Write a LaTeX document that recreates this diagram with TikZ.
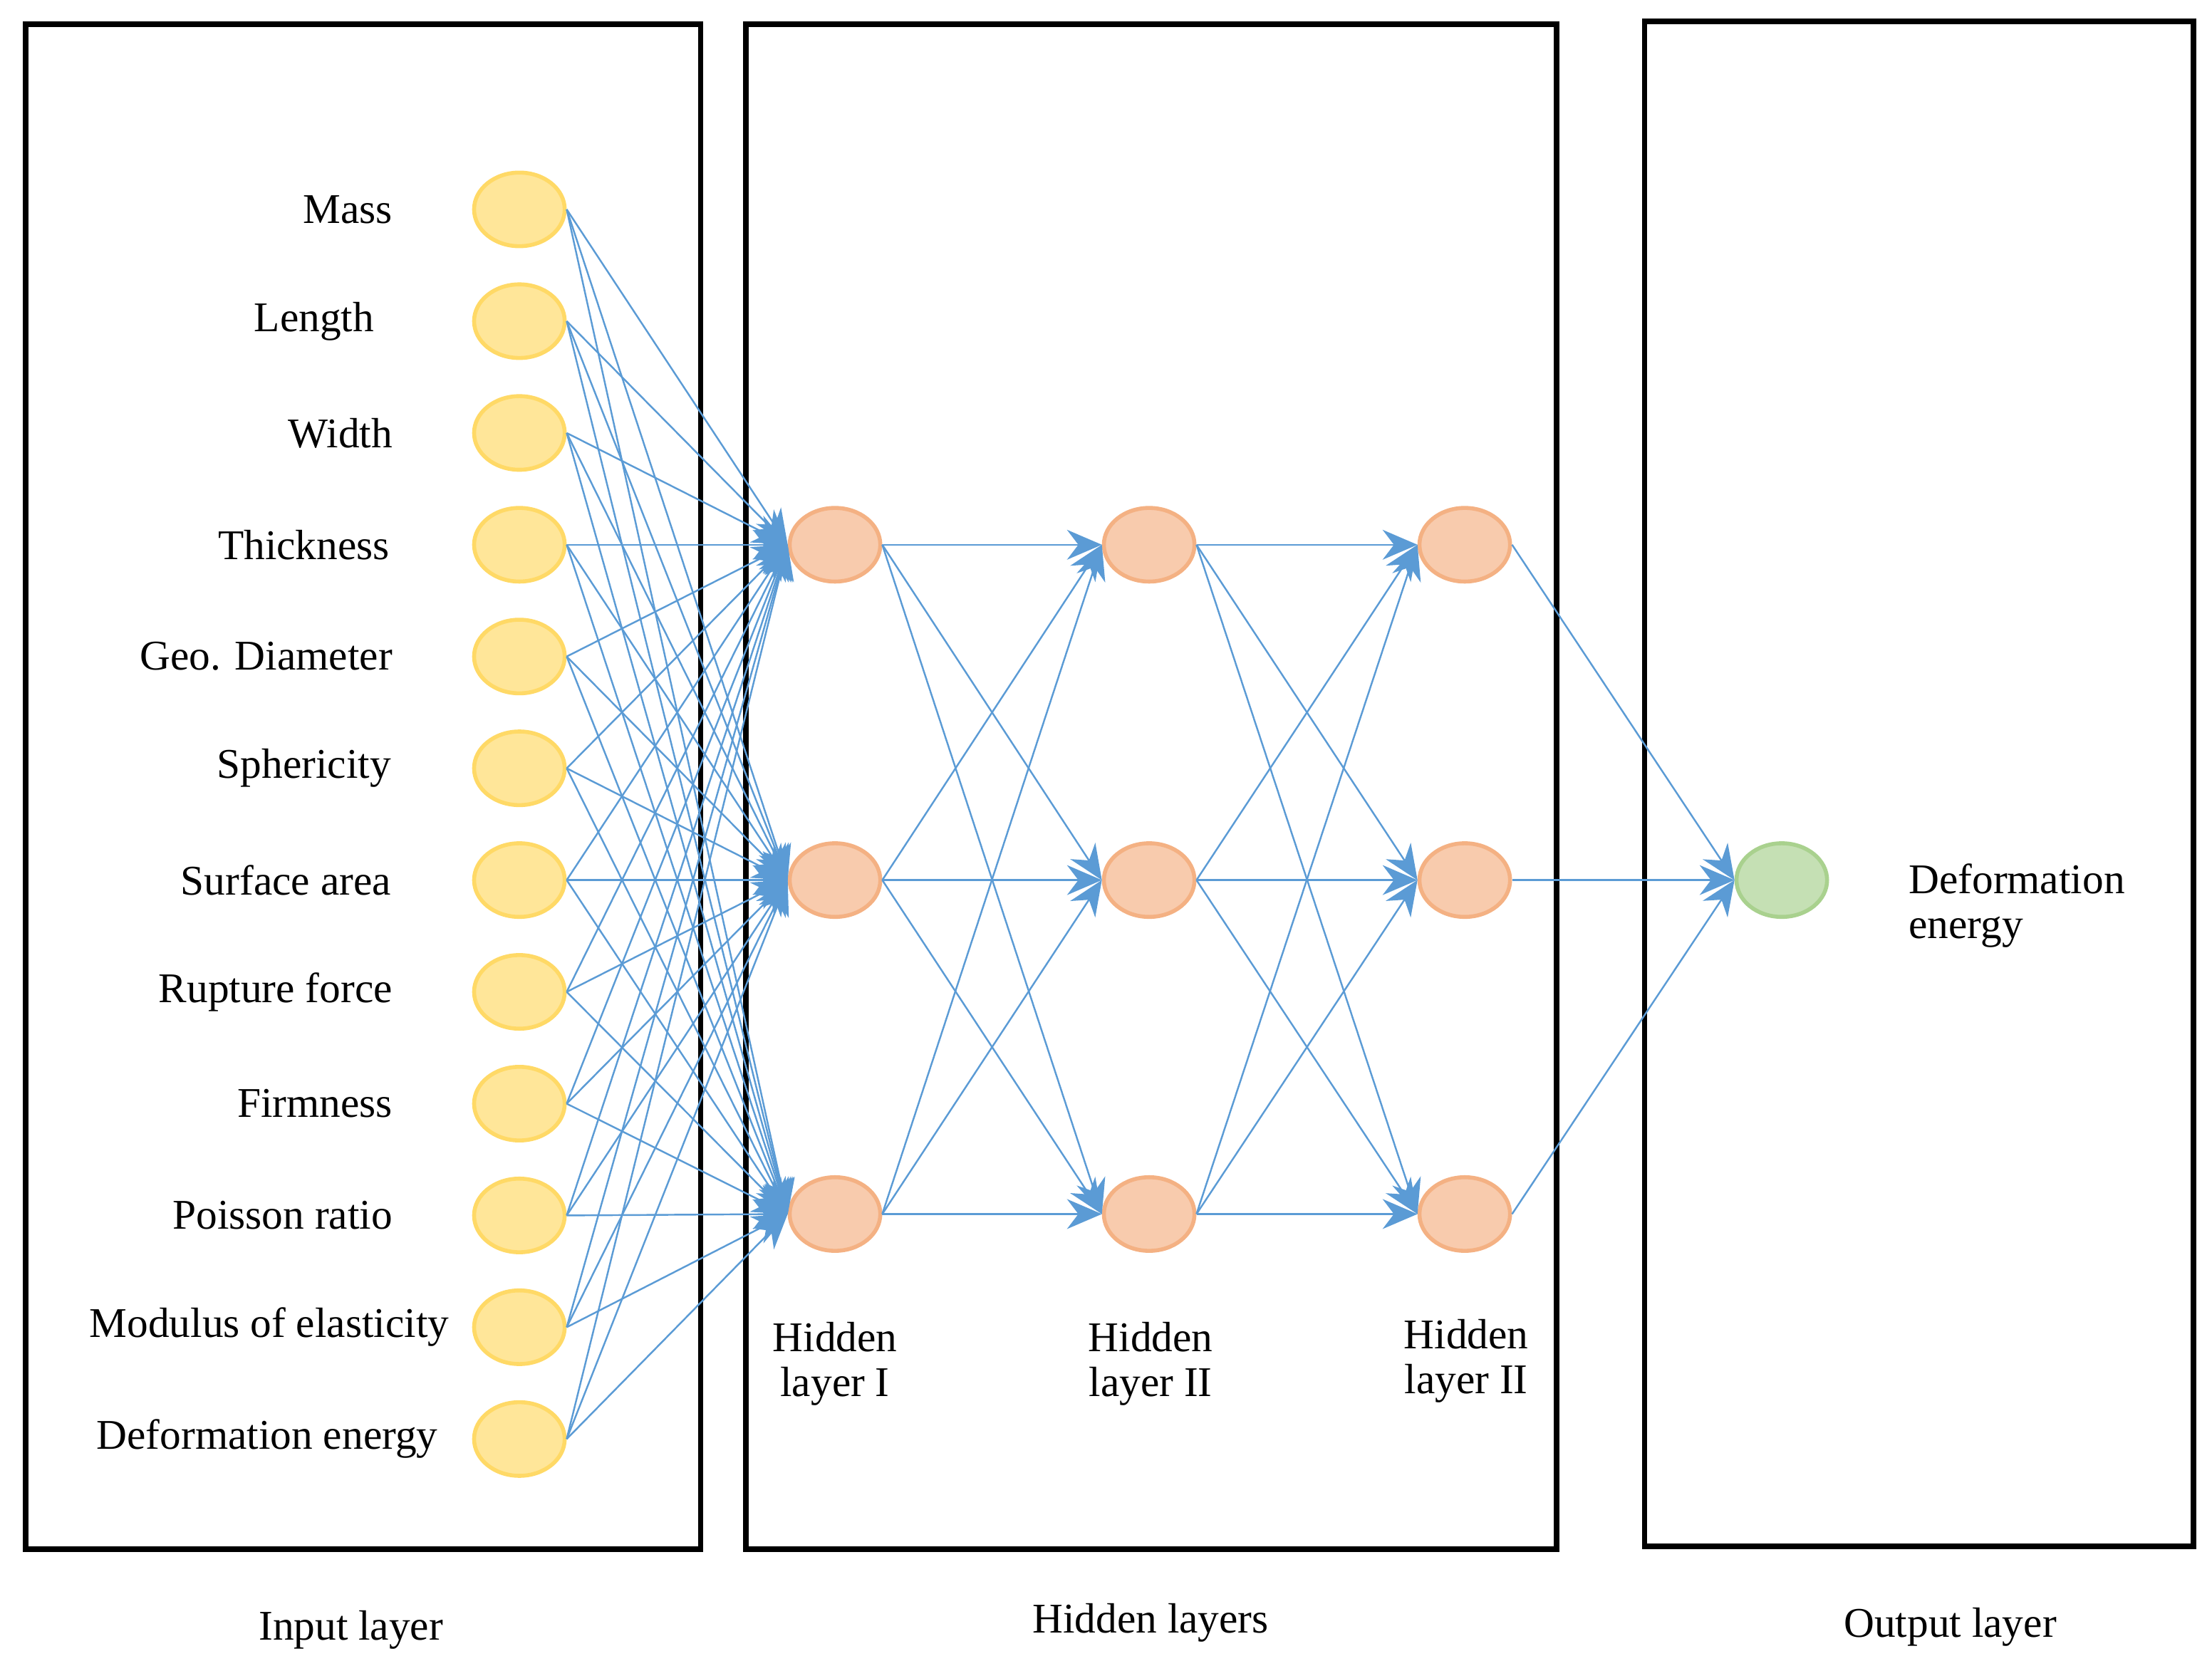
\documentclass[tikz,border=0pt]{standalone}
\usepackage{fontspec}
\setmainfont{Liberation Serif}
\usetikzlibrary{positioning,arrows.meta,shapes.geometric}
\definecolor{linkblue}{RGB}{91,155,213}
\definecolor{inpfill}{RGB}{255,230,153}
\definecolor{inpdraw}{RGB}{255,217,102}
\definecolor{hidfill}{RGB}{248,203,173}
\definecolor{hiddraw}{RGB}{244,177,131}
\definecolor{outfill}{RGB}{197,224,180}
\definecolor{outdraw}{RGB}{169,209,142}
\begin{document}
\begin{tikzpicture}[x=0.01cm,y=-0.01cm,font=\fontsize{8.5}{9}\selectfont,
  neuron/.style={ellipse,minimum width=0.64cm,minimum height=0.52cm,inner sep=0pt,line width=0.8pt},
  inp/.style={neuron,fill=inpfill,draw=inpdraw},
  hid/.style={neuron,fill=hidfill,draw=hiddraw},
  outp/.style={neuron,fill=outfill,draw=outdraw},
  link/.style={draw=linkblue,line width=0.35pt,-{Stealth[length=7pt,width=6pt,fill=linkblue]}},
  layerbox/.style={draw=black,line width=1.1pt}]
\useasboundingbox (0,0) rectangle (1563,1177);
% boxes
\draw[layerbox] (18,17) rectangle (495,1095);
\draw[layerbox] (527,17) rectangle (1100,1095);
\draw[layerbox] (1162,15) rectangle (1550,1093);
% input layer
\foreach \name/\r [count=\i] in {Mass/278,Length/265,Width/278,Thickness/276,Geo. Diameter/278,Sphericity/277,Surface area/277,Rupture force/278,Firmness/278,Poisson ratio/278,Modulus of elasticity/318,Deformation energy/310}{
  \node[inp] (in\i) at (367,{148+(\i-1)*79}) {};
  \node[anchor=east,inner sep=0pt] (lab\i) at (\r,{148+(\i-1)*79}) {\name};
}
% hidden layers
\foreach \l/\x in {1/590,2/812,3/1035}{
  \foreach \j/\y in {1/385,2/622,3/858}{
    \node[hid] (h\l\j) at (\x,\y) {};
  }
}
\node[align=center,anchor=north] (hl1) at (590,922) {Hidden\\layer I};
\node[align=center,anchor=north] (hl2) at (813,922) {Hidden\\layer II};
\node[align=center,anchor=north] (hl3) at (1036,920) {Hidden\\layer II};
% output
\node[outp] (out) at (1259,622) {};
\node[align=left,anchor=west,inner sep=0pt] (outlab) at (1348,640) {Deformation\\energy};
% connections
\foreach \i in {1,...,12}{
  \foreach \j in {1,2,3}{
    \draw[link] (in\i.east) -- (h1\j.west);
  }
}
\foreach \a/\b in {1/2,2/3}{
  \foreach \i in {1,2,3}{
    \foreach \j in {1,2,3}{
      \draw[link] (h\a\i.east) -- (h\b\j.west);
    }
  }
}
\foreach \i in {1,2,3}{
  \draw[link] (h3\i.east) -- (out.west);
}
% captions
\node (capin) at (248,1152) {Input layer};
\node (caphid) at (813,1147) {Hidden layers};
\node (capout) at (1378,1150) {Output layer};
\end{tikzpicture}
\end{document}
